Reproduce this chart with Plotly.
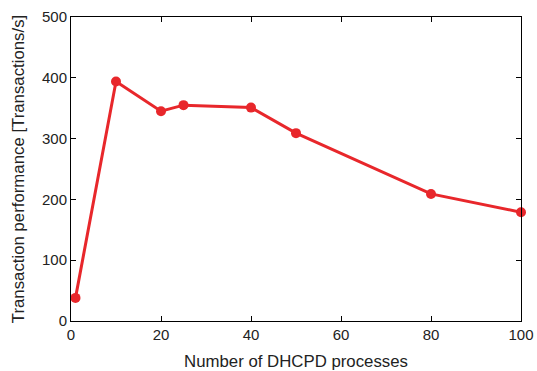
import plotly.graph_objects as go

processes = [1, 10, 20, 25, 40, 50, 80, 100]
performance = [38, 394, 345, 355, 351, 309, 209, 179]

FONT = "Liberation Sans, Arial, Helvetica"

fig = go.Figure(go.Scatter(
    x=processes, y=performance, mode="lines+markers",
    line=dict(color="#e8272b", width=3),
    marker=dict(color="#e8272b", size=10),
    showlegend=False, cliponaxis=False,
))

axis_common = dict(
    showgrid=False, zeroline=False, showline=True, linecolor="black", linewidth=1,
    mirror="ticks", ticks="inside", ticklen=5, tickcolor="black", automargin=False,
    tickfont=dict(family=FONT, size=15, color="#222"),
)
fig.update_xaxes(range=[0, 100], tickvals=[0, 20, 40, 60, 80, 100],
                 title=dict(text="Number of DHCPD processes", standoff=15,
                            font=dict(family=FONT, size=16.8, color="#222")),
                 **axis_common)
fig.update_yaxes(range=[0, 500], tickvals=[0, 100, 200, 300, 400, 500],
                 title=dict(text="Transaction performance [Transactions/s]", standoff=13,
                            font=dict(family=FONT, size=16.8, color="#222")),
                 **axis_common)
fig.update_layout(
    width=537, height=371,
    margin=dict(l=71, r=16, t=17, b=50),
    plot_bgcolor="white", paper_bgcolor="white",
)
fig.write_html("out.html", config={"displayModeBar": False},
               post_script="document.body.style.margin='0';document.body.style.overflow='hidden';")
